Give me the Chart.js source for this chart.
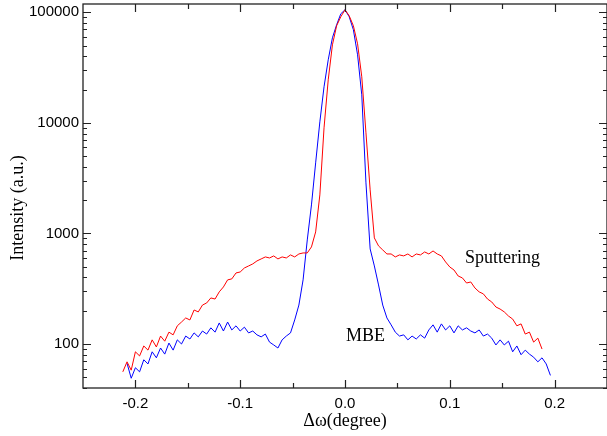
<!DOCTYPE html>
<html>
<head>
<meta charset="utf-8">
<script src="https://cdn.jsdelivr.net/npm/chart.js@4.4.1/dist/chart.umd.min.js"></script>
<style>
  html, body { margin: 0; padding: 0; background: #fff; }
  #c { display: block; }
</style>
</head>
<body>
<canvas id="c" width="607" height="436"></canvas>
<script>
// delta omega (degree)
const omega = [
  -0.212,-0.208,-0.204,-0.2,-0.196,-0.192,-0.188,-0.184,-0.18,-0.176,
  -0.172,-0.168,-0.164,-0.16,-0.156,-0.152,-0.148,-0.144,-0.14,-0.136,
  -0.132,-0.128,-0.124,-0.12,-0.116,-0.112,-0.108,-0.104,-0.1,-0.096,
  -0.092,-0.088,-0.084,-0.08,-0.076,-0.072,-0.068,-0.064,-0.06,-0.056,
  -0.052,-0.048,-0.044,-0.04,-0.036,-0.032,-0.028,-0.024,-0.02,-0.016,
  -0.012,-0.008,-0.004,0,0.004,0.008,0.012,0.016,0.02,0.024,
  0.028,0.032,0.036,0.04,0.044,0.048,0.052,0.056,0.06,0.064,
  0.068,0.072,0.076,0.08,0.084,0.088,0.092,0.096,0.1,0.104,
  0.108,0.112,0.116,0.12,0.124,0.128,0.132,0.136,0.14,0.144,
  0.148,0.152,0.156,0.16,0.164,0.168,0.172,0.176,0.18,0.184,
  0.188,0.192,0.196
];

const sputtering = [
  56,69,58,85,78,96,88,109,94,118,
  106,128,121,146,158,172,165,203,195,225,
  235,261,255,296,328,380,388,439,448,487,
  508,530,564,588,613,600,626,588,613,600,
  639,613,652,666,666,755,1032,2230,9010,24498,
  50800,75470,91050,105300,92960,75470,51870,26080,8120,2476,
  911,771,709,652,652,613,639,626,652,613,
  652,639,680,652,694,652,626,552,497,467,
  412,396,356,364,321,296,284,255,240,216,
  207,195,179,168,146,152,123,128,104,113,
  90,null,null
];

const mbe = [
  null,67,49,61,56,72,66,85,75,92,
  81,102,88,109,100,118,111,126,116,131,
  123,140,128,155,131,158,134,146,131,142,
  126,131,121,116,123,104,98,92,109,118,
  126,165,225,380,873,1811,4346,10210,21180,37163,
  58800,77060,96900,105300,91050,69433,41250,17920,2864,724,
  508,342,225,172,149,128,118,121,109,118,
  111,121,113,134,149,128,152,134,146,126,
  146,134,140,131,126,134,118,123,113,98,
  109,98,106,85,96,80,88,81,76,69,
  75,66,52
];

const xTicks = [-0.2, -0.1, 0, 0.1, 0.2];
const xMinorTicks = [-0.15, -0.05, 0.05, 0.15];
const yTicks = [100, 1000, 10000, 100000];

const serif = "'Liberation Serif', 'Times New Roman', serif";
const sans = "'Liberation Sans', Arial, sans-serif";

// box frame with inward ticks on all four sides, plus the text labels
const frameTicks = {
  id: 'frameTicks',
  afterDatasetsDraw(chart) {
    const { ctx, chartArea: a, scales: { x, y } } = chart;
    ctx.save();
    ctx.strokeStyle = '#222';
    ctx.lineWidth = 1.3;
    ctx.strokeRect(a.left, a.top, a.right - a.left, a.bottom - a.top);

    ctx.lineWidth = 1.2;
    ctx.beginPath();
    xTicks.forEach(v => {
      const px = Math.round(x.getPixelForValue(v)) + 0.5;
      ctx.moveTo(px, a.bottom); ctx.lineTo(px, a.bottom - 8);
      ctx.moveTo(px, a.top); ctx.lineTo(px, a.top + 8);
    });
    xMinorTicks.forEach(v => {
      const px = Math.round(x.getPixelForValue(v)) + 0.5;
      ctx.moveTo(px, a.bottom); ctx.lineTo(px, a.bottom - 5);
      ctx.moveTo(px, a.top); ctx.lineTo(px, a.top + 5);
    });
    yTicks.forEach(v => {
      const py = Math.round(y.getPixelForValue(v)) + 0.5;
      ctx.moveTo(a.left, py); ctx.lineTo(a.left + 8, py);
      ctx.moveTo(a.right, py); ctx.lineTo(a.right - 8, py);
    });
    [10, 100, 1000, 10000, 100000].forEach(d => {
      for (let m = 2; m <= 9; m++) {
        const v = d * m;
        if (v < y.min || v > y.max) continue;
        const py = Math.round(y.getPixelForValue(v)) + 0.5;
        ctx.moveTo(a.left, py); ctx.lineTo(a.left + 4, py);
        ctx.moveTo(a.right, py); ctx.lineTo(a.right - 4, py);
      }
    });
    ctx.stroke();

    ctx.fillStyle = '#000';
    ctx.font = '18px ' + serif;
    ctx.textBaseline = 'alphabetic';
    ctx.textAlign = 'left';
    ctx.fillText('Sputtering', 465, 263);
    ctx.fillText('MBE', 346, 341);

    ctx.textAlign = 'center';
    ctx.textBaseline = 'middle';
    ctx.fillText('\u0394\u03c9(degree)', 345, 421);

    ctx.translate(18, 208);
    ctx.rotate(-Math.PI / 2);
    ctx.fillText('Intensity (a.u.)', 0, 0);
    ctx.restore();
  }
};

new Chart(document.getElementById('c'), {
  type: 'line',
  data: {
    datasets: [
      {
        label: 'Sputtering',
        data: omega.map((w, i) => ({ x: w, y: sputtering[i] })),
        borderColor: '#ff0000',
        borderWidth: 1,
        pointRadius: 0,
        tension: 0,
        spanGaps: false
      },
      {
        label: 'MBE',
        data: omega.map((w, i) => ({ x: w, y: mbe[i] })),
        borderColor: '#0000ff',
        borderWidth: 1,
        pointRadius: 0,
        tension: 0,
        spanGaps: false
      }
    ]
  },
  options: {
    responsive: false,
    animation: false,
    layout: { padding: { top: 4, right: 0, bottom: 0, left: 0 } },
    plugins: { legend: { display: false }, tooltip: { enabled: false } },
    scales: {
      x: {
        type: 'linear',
        min: -0.25,
        max: 0.25,
        grid: { display: false, drawTicks: false },
        border: { display: false },
        afterBuildTicks: s => { s.ticks = xTicks.map(v => ({ value: v })); },
        afterFit: s => { s.height = 48; s.paddingLeft = 0; s.paddingRight = 0; },
        ticks: {
          padding: 7,
          color: '#000',
          font: { family: sans, size: 15 },
          callback: v => v.toFixed(1)
        }
      },
      y: {
        type: 'logarithmic',
        min: 40,
        max: 118800,
        grid: { display: false, drawTicks: false },
        border: { display: false },
        afterBuildTicks: s => { s.ticks = yTicks.map(v => ({ value: v, major: true })); },
        afterFit: s => { s.width = 83; s.paddingTop = 0; s.paddingBottom = 0; },
        ticks: {
          padding: 4,
          color: '#000',
          font: { family: sans, size: 15 },
          callback: v => String(v)
        }
      }
    }
  },
  plugins: [frameTicks]
});
</script>
</body>
</html>
